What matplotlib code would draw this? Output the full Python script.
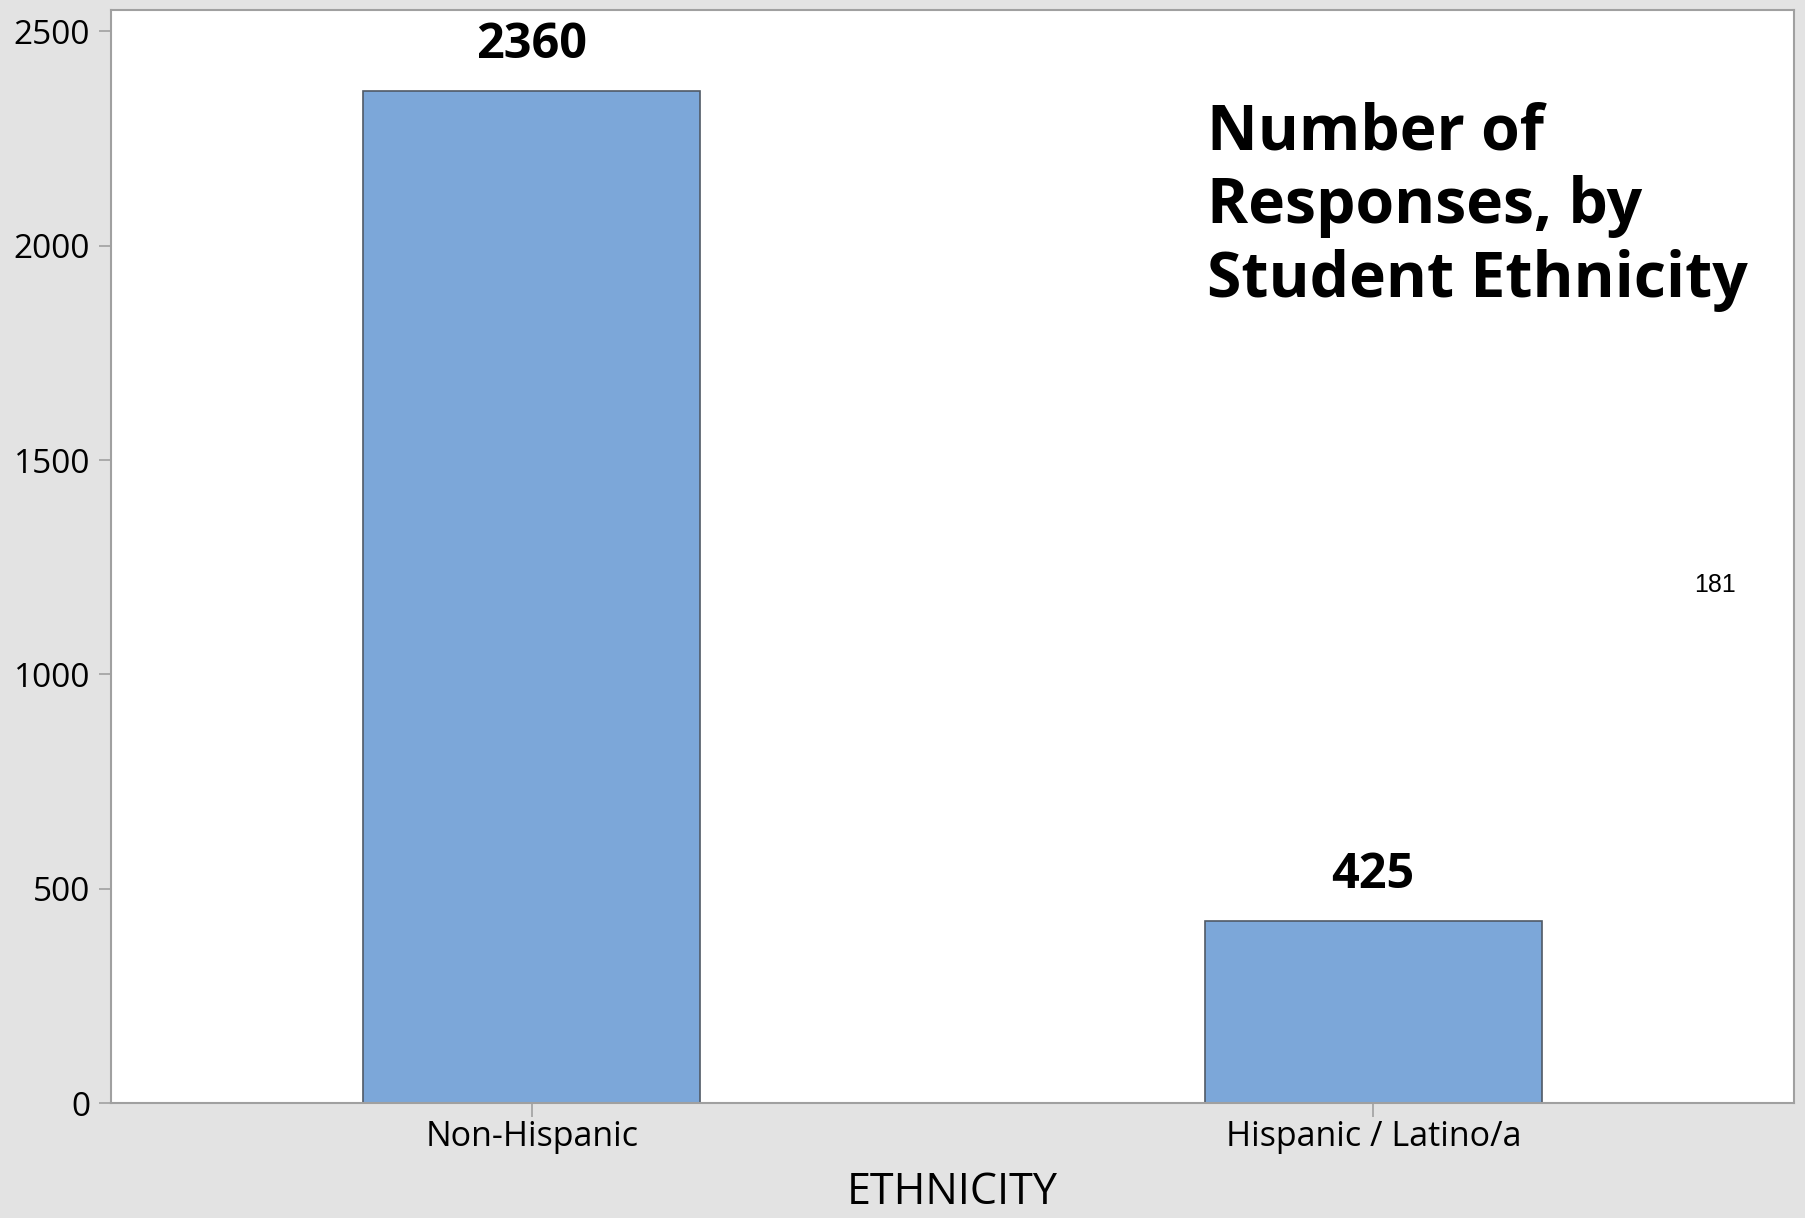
import matplotlib
matplotlib.use("Agg")
import matplotlib.pyplot as plt

#---------------------------------------
# donnees du graphique
categories = ["Non-Hispanic", "Hispanic / Latino/a"]
reponses = [2360, 425]
yticks = [0, 500, 1000, 1500, 2000, 2500]
titre = "Number of\nResponses, by\nStudent Ethnicity"
note = "181"
#---------------------------------------

fond = "#e3e3e3"
gris = "#a0a0a0"

fig = plt.figure(figsize=(18.06, 12.18), dpi=100, facecolor=fond)
ax = fig.add_axes([111/1806, 115/1218, 1683/1806, 1093/1218])
ax.set_facecolor("white")

x = list(range(len(categories)))
barres = ax.bar(x, reponses, width=0.4, color="#7ca7d9", edgecolor="#505a66", linewidth=1.2)

ax.set_xlim(-0.5, 1.5)
ax.set_ylim(0, 2550)
ax.set_yticks(yticks)
ax.set_xticks(x)
ax.set_xticklabels(categories, fontsize=24.5, family="Open Sans")
ax.set_yticklabels([str(v) for v in yticks], fontsize=24, family="Open Sans")
ax.tick_params(axis="y", length=9, width=1.2, color=gris, pad=6)
ax.tick_params(axis="x", length=10, width=1.2, color=gris, pad=2)
for s in ax.spines.values():
    s.set_color(gris)
    s.set_linewidth(1.5)

# valeurs au dessus des barres
for xi, v in zip(x, reponses):
    ax.annotate(str(v), (xi, v), xytext=(0, 24), textcoords="offset points",
                ha="center", va="baseline", fontsize=35, fontweight="bold", family="Open Sans")

ax.set_xlabel("ETHNICITY", fontsize=31, family="Open Sans", labelpad=12)

ax.text(0.651, 0.916, titre, transform=ax.transAxes, ha="left", va="top",
        fontsize=45, fontweight="bold", family="Open Sans", linespacing=1.22)

ax.text(0.953, 0.474, note, transform=ax.transAxes, ha="center", va="center",
        fontsize=18, family="Liberation Sans")

fig.savefig("out.png", dpi=100, facecolor=fond)
